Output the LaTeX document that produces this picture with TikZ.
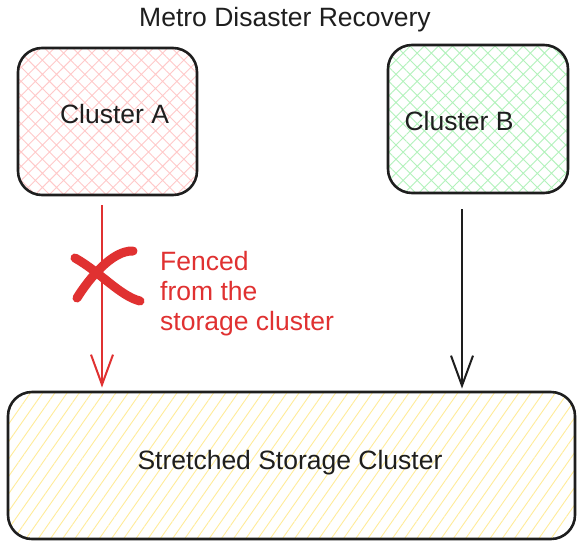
\documentclass[tikz,border=0pt]{standalone}
\usepackage{fontspec}
\setmainfont{Liberation Sans}
\usetikzlibrary{arrows.meta,patterns.meta,calc}
\definecolor{inkgray}{HTML}{1E1E1E}
\definecolor{fencered}{HTML}{E03131}
\definecolor{hatchpink}{HTML}{FFC9C9}
\definecolor{hatchgreen}{HTML}{B2F2BB}
\definecolor{hatchyellow}{HTML}{FFEC99}

\begin{document}
\begin{tikzpicture}[x=1pt,y=-1pt,
  box/.style={draw=inkgray,line width=2.6pt,rounded corners=24pt,inner sep=0pt},
  lbl/.style={text=inkgray,font=\fontsize{26.5}{30}\selectfont,inner sep=0pt,anchor=base},
  link/.style={line width=2pt,-{Straight Barb[length=30pt,width=22pt,line width=2pt]}}]
\useasboundingbox (0,0) rectangle (577,541);
\fill[white] (0,0) rectangle (577,541);
\node[lbl] (title) at (285,26) {Metro Disaster Recovery};
\node[box,minimum width=179pt,minimum height=147pt,
  pattern={Hatch[angle=45,distance=10pt,line width=0.9pt]},pattern color=hatchpink]
  (clusterA) at (107.5,121.5) {};
\node[box,minimum width=180pt,minimum height=148pt,
  pattern={Hatch[angle=45,distance=10pt,line width=0.9pt]},pattern color=hatchgreen]
  (clusterB) at (478,119) {};
\node[box,minimum width=567pt,minimum height=147pt,
  pattern={Lines[angle=55,distance=10pt,line width=0.9pt]},pattern color=hatchyellow]
  (storage) at (291.5,465.5) {};
\node[lbl] (labelA) at (114.5,123) {Cluster A};
\node[lbl] (labelB) at (459,130) {Cluster B};
\node[lbl] (labelS) at (290,469) {Stretched Storage Cluster};
% connectors
\draw[link,fencered] ($(clusterA.south)+(-5.5,10)$) -- ($(clusterA.south |- storage.north)+(-5.5,-4)$);
\draw[link,inkgray] ($(clusterB.south)+(-16,15)$) -- ($(clusterB.south |- storage.north)+(-16,-3)$);
% the cross
\draw[fencered,line width=9pt,line cap=round] (75,258) .. controls (100,272) and (120,296) .. (140,301);
\draw[fencered,line width=9pt,line cap=round] (133,251) .. controls (112,250) and (88,280) .. (77,298);
\node[text=fencered,font=\fontsize{26.5}{30}\selectfont,align=left,anchor=north west,inner sep=0pt]
  (fenced) at (160,251) {Fenced\\from the\\storage cluster};
\end{tikzpicture}
\end{document}
